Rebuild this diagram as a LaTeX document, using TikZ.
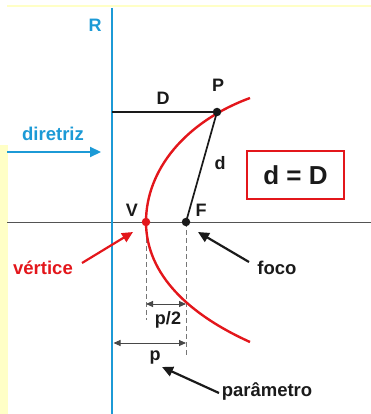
\documentclass[tikz,border=0pt]{standalone}
\usepackage{fontspec}
\setmainfont{Liberation Sans}
\usetikzlibrary{arrows.meta}
\definecolor{bl}{HTML}{1C9AD6}
\definecolor{rd}{HTML}{E3161B}
\definecolor{yl}{HTML}{FFFFC6}
\definecolor{ink}{HTML}{1A1A1A}
\begin{document}
\begin{tikzpicture}[x=1pt,y=-1pt,
  lab/.style={inner sep=0pt,font=\fontsize{18}{18}\selectfont\bfseries,text=ink},
  word/.style={inner sep=0pt,font=\fontsize{18.5}{18.5}\selectfont\bfseries,text=ink},
  pointer/.style={ink,line width=2.2pt,-{Triangle[length=11pt,width=10pt]}},
  dimline/.style={ink!80,line width=0.9pt,{Triangle[length=7pt,width=6pt]}-{Triangle[length=7pt,width=6pt]}},
  guide/.style={ink!60,line width=0.9pt,dash pattern=on 5pt off 3pt},
  segment/.style={ink,line width=1.7pt},
  dot/.style={circle,fill=ink,inner sep=0pt,minimum size=8.5pt}
]
\useasboundingbox (0,0) rectangle (371,414);
\fill[yl] (7,5) rectangle (371,7.5);
\fill[yl] (0,145) rectangle (7.5,414);

% axis
\coordinate (axL) at (7,222);
\coordinate (axR) at (371,222);
\draw[ink!75,line width=0.9pt] (axL) -- (axR);

% directrix
\coordinate (Rtop) at (112,8);
\coordinate (Rbot) at (112,414);
\draw[bl,line width=2.8pt] (Rtop) -- (Rbot);

% points
\coordinate (V) at (146,222);
\coordinate (F) at (186,222);
\coordinate (P) at (217,112);
\coordinate (Dl) at (112,112);
\coordinate (Ctop) at (250,98);
\coordinate (Cbot) at (250,342);

% guides
\coordinate (Vg) at (146,320);
\coordinate (Fg) at (186,357);
\draw[guide] (V) -- (Vg);
\draw[guide] (F) -- (Fg);

% parabola
\draw[rd,line width=2.4pt] (Ctop) .. controls (185,122) and (146,170) .. (V)
  .. controls (146,275) and (190,315) .. (Cbot);

% segments
\draw[segment] (Dl) -- (P);
\draw[segment] (P) -- (F);

\node[dot] (Pd) at (P) {};
\node[dot] (Fd) at (F) {};
\node[dot,fill=rd] (Vd) at (V) {};

% labels
\node[lab,text=bl] (Rl) at (95,25) {R};
\node[lab] (Dlab) at (163,98) {D};
\node[lab] (Plab) at (218,85) {P};
\node[lab] (dlab) at (220,163) {d};
\node[lab] (Vlab) at (132,210) {V};
\node[lab] (Flab) at (201,210) {F};

\node[draw=rd,line width=1.8pt,fill=white,minimum width=97pt,minimum height=48pt,
  inner sep=0pt,font=\fontsize{26}{26}\selectfont\bfseries,text=ink] (eq) at (295.5,175) {d = D};

% diretriz
\node[word,text=bl] (dir) at (53,134) {diretriz};
\coordinate (dirA) at (7,152);
\coordinate (dirB) at (101,152);
\draw[bl,line width=2.2pt,-{Triangle[length=11pt,width=10pt]}] (dirA) -- (dirB);

% vertice
\node[word,text=rd] (vert) at (43,268) {vértice};
\coordinate (vA) at (82,263);
\coordinate (vB) at (133,232);
\draw[pointer,rd] (vA) -- (vB);

% foco
\node[word] (foco) at (277,268) {foco};
\coordinate (fA) at (249,262);
\coordinate (fB) at (198,232);
\draw[pointer] (fA) -- (fB);

% dimensions
\coordinate (h1) at (146,304);
\coordinate (h2) at (186,304);
\draw[dimline] (h1) -- (h2);
\node[lab] (p2) at (168,320) {p/2};
\coordinate (q1) at (113.5,343);
\coordinate (q2) at (186,343);
\draw[dimline] (q1) -- (q2);
\node[lab] (pl) at (155,358) {p};

% parametro
\node[word] (par) at (267,392) {parâmetro};
\coordinate (pA) at (219,393);
\coordinate (pB) at (162,367);
\draw[pointer] (pA) -- (pB);
\end{tikzpicture}
\end{document}
